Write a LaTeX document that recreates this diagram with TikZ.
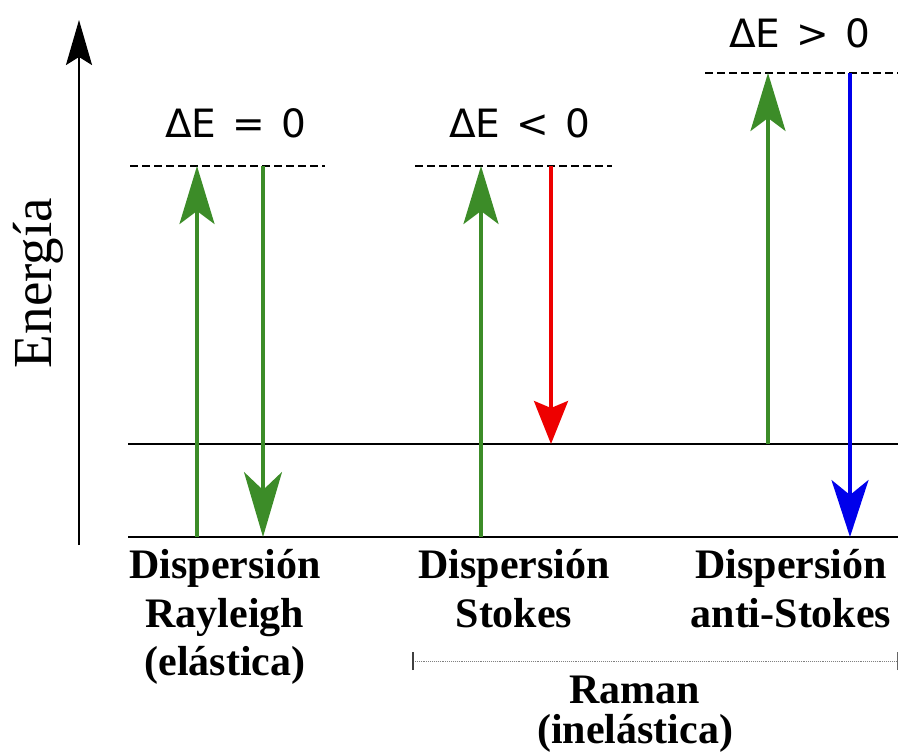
\documentclass[tikz,border=0pt]{standalone}
\usepackage{fontspec}
\setmainfont{Liberation Serif}
\newfontfamily\dvs{DejaVu Sans}
\usetikzlibrary{arrows.meta}
\definecolor{cgreen}{RGB}{60,140,40}
\definecolor{cred}{RGB}{238,0,0}
\definecolor{cblue}{RGB}{0,0,235}
\begin{document}
\begin{tikzpicture}[x=1pt,y=-1pt,
  level/.style={line width=2.5pt, black},
  virt/.style={line width=2.2pt, black, dash pattern=on 8pt off 4pt},
  garrow/.style={draw=cgreen, line width=3.2pt, -{Stealth[length=58pt,width=35pt,inset=13pt]}},
  gdown/.style={draw=cgreen, line width=3.2pt, -{Stealth[length=65pt,width=38pt,inset=18pt]}},
  rarrow/.style={draw=cred, line width=3.2pt, -{Stealth[length=43pt,width=34pt,inset=7pt]}},
  barrow/.style={draw=cblue, line width=3.2pt, -{Stealth[length=57pt,width=37pt,inset=15pt]}},
  de/.style={font=\dvs\fontsize{39}{44}\selectfont, inner sep=0pt, anchor=base},
  lbl/.style={font=\fontsize{42}{48}\selectfont\bfseries, inner sep=0pt, anchor=base}]
\useasboundingbox (0,0) rectangle (898,754);
% axis
\coordinate (ax0) at (79,545);
\coordinate (ax1) at (79,20);
\draw[line width=2pt, -{Stealth[length=45pt,width=26pt,inset=8pt]}] (ax0) -- (ax1);
\node[font=\fontsize{55}{60}\selectfont, rotate=90, anchor=base, inner sep=0pt] (en) at (52,283) {Energía};
% levels
\coordinate (g0l) at (128,537); \coordinate (g0r) at (898,537);
\coordinate (g1l) at (128,444); \coordinate (g1r) at (898,444);
\draw[level] (g0l) -- (g0r);
\draw[level] (g1l) -- (g1r);
\coordinate (v1l) at (130,166); \coordinate (v1r) at (325,166);
\coordinate (v2l) at (415,166); \coordinate (v2r) at (612,166);
\coordinate (v3l) at (705,73);  \coordinate (v3r) at (898,73);
\draw[virt] (v1l) -- (v1r);
\draw[virt] (v2l) -- (v2r);
\draw[virt] (v3l) -- (v3r);
% Rayleigh
\coordinate (r1a) at (197,537); \coordinate (r1b) at (197,166);
\coordinate (r2a) at (263,166); \coordinate (r2b) at (263,537);
\draw[garrow] (r1a) -- (r1b);
\draw[gdown] (r2a) -- (r2b);
% Stokes
\coordinate (s1a) at (481,537); \coordinate (s1b) at (481,166);
\coordinate (s2a) at (551,166); \coordinate (s2b) at (551,444);
\draw[garrow] (s1a) -- (s1b);
\draw[rarrow] (s2a) -- (s2b);
% anti-Stokes
\coordinate (a1a) at (768,444); \coordinate (a1b) at (768,73);
\coordinate (a2a) at (850,73); \coordinate (a2b) at (850,537);
\draw[garrow] (a1a) -- (a1b);
\draw[barrow] (a2a) -- (a2b);
% energy labels
\node[de] (de1) at (236,138) {ΔE\hspace{0.42em}=\hspace{0.42em}0};
\node[de] (de2) at (520,138) {ΔE\hspace{0.42em}<\hspace{0.42em}0};
\node[de] (de3) at (800,48) {ΔE\hspace{0.42em}>\hspace{0.42em}0};
% bottom labels
\node[lbl] (l1a) at (225,578) {Dispersión};
\node[lbl] (l1b) at (225,627) {Rayleigh};
\node[lbl] (l1c) at (225,675) {(elástica)};
\node[lbl] (l2a) at (514,578) {Dispersión};
\node[lbl] (l2b) at (514,627) {Stokes};
\node[lbl] (l3a) at (791,578) {Dispersión};
\node[lbl] (l3b) at (791,627) {anti-Stokes};
% Raman bracket
\coordinate (bl) at (413,661); \coordinate (br) at (897,661);
\draw[gray, line width=0.9pt, densely dotted] (bl) -- (br);
\draw[black!75, line width=1.5pt] ([yshift=-9pt]bl) -- ([yshift=9pt]bl);
\draw[black!60, line width=1pt] ([yshift=-9pt]br) -- ([yshift=9pt]br);
\node[lbl] (rm1) at (635,703) {Raman};
\node[lbl] (rm2) at (635,743) {(inelástica)};
\end{tikzpicture}
\end{document}
